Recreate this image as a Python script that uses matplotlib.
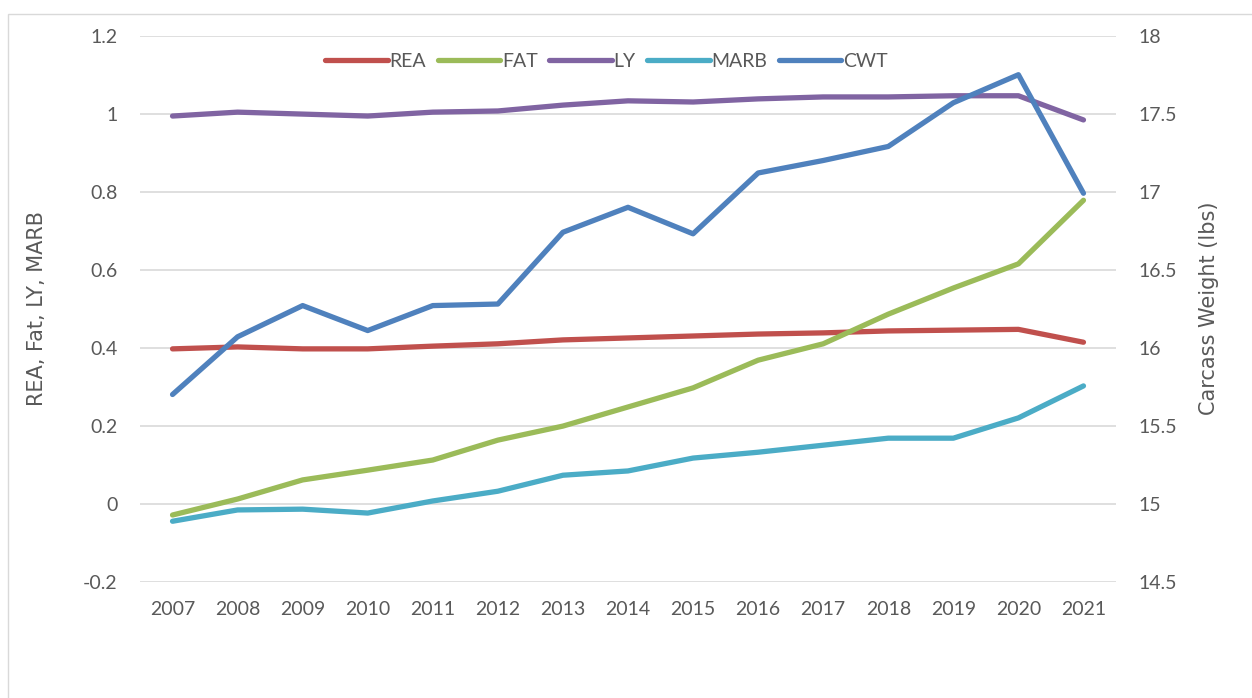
import matplotlib.pyplot as plt
from matplotlib.patches import Rectangle
import numpy as np

years = [str(y) for y in range(2007, 2022)]
rea = [0.397, 0.402, 0.397, 0.397, 0.404, 0.410, 0.420, 0.425, 0.430, 0.435, 0.438, 0.443, 0.445, 0.447, 0.414]
fat = [-0.029, 0.012, 0.061, 0.086, 0.112, 0.163, 0.199, 0.248, 0.297, 0.368, 0.410, 0.486, 0.553, 0.615, 0.778]
ly = [0.994, 1.004, 0.999, 0.994, 1.004, 1.007, 1.022, 1.033, 1.030, 1.038, 1.043, 1.043, 1.046, 1.046, 0.984]
marb = [-0.045, -0.016, -0.014, -0.024, 0.007, 0.032, 0.073, 0.084, 0.117, 0.132, 0.150, 0.168, 0.168, 0.220, 0.302]
cwt = [15.70, 16.07, 16.27, 16.11, 16.27, 16.28, 16.74, 16.90, 16.73, 17.12, 17.20, 17.29, 17.57, 17.75, 16.99]

txt = "#595959"
plt.rcParams["font.family"] = ["Lato", "DejaVu Sans"]

fig = plt.figure(figsize=(12.52, 6.98), dpi=100)
fig.patches.append(Rectangle((8 / 1252, -0.1), 1.2, 1 - 14 / 698 + 0.1,
                             transform=fig.transFigure, fill=False,
                             edgecolor="#D9D9D9", linewidth=1))
ax = fig.add_axes([140 / 1252, 1 - 581.7 / 698, 976 / 1252, 546 / 698])
ax2 = ax.twinx()

x = np.arange(len(years))
lw = 3.8
l1, = ax.plot(x, rea, color="#C0504D", lw=lw, solid_capstyle="round", label="REA")
l2, = ax.plot(x, fat, color="#9BBB59", lw=lw, solid_capstyle="round", label="FAT")
l3, = ax.plot(x, ly, color="#8064A2", lw=lw, solid_capstyle="round", label="LY")
l4, = ax.plot(x, marb, color="#4BACC6", lw=lw, solid_capstyle="round", label="MARB")
l5, = ax2.plot(x, cwt, color="#4F81BD", lw=lw, solid_capstyle="round", label="CWT")

ax.set_xlim(-0.5, len(years) - 0.5)
ax.set_ylim(-0.2, 1.2)
ax.set_yticks(np.arange(-0.2, 1.21, 0.2))
ax.set_yticklabels(["-0.2", "0", "0.2", "0.4", "0.6", "0.8", "1", "1.2"])
ax2.set_ylim(14.5, 18)
ax2.set_yticks(np.arange(14.5, 18.01, 0.5))
ax2.set_yticklabels(["14.5", "15", "15.5", "16", "16.5", "17", "17.5", "18"])
ax.set_xticks(x)
ax.set_xticklabels(years)

ax.grid(axis="y", color="#D9D9D9", linewidth=1.2)
ax.set_axisbelow(True)
for a in (ax, ax2):
    for s in a.spines.values():
        s.set_visible(False)
    a.tick_params(length=0, colors=txt, labelsize=14)
ax.tick_params(axis="y", pad=16)
ax2.tick_params(axis="y", pad=16)
ax.tick_params(axis="x", pad=14)

ax.set_ylabel("REA, Fat, LY, MARB", color=txt, fontsize=15, family="DejaVu Sans", labelpad=26)
ax2.set_ylabel("Carcass Weight (lbs)", color=txt, fontsize=15, family="DejaVu Sans", labelpad=16)

ax2.legend(handles=[l1, l2, l3, l4, l5], loc="upper center", bbox_to_anchor=(0.478, 1.0),
           ncol=5, frameon=False, fontsize=14, labelcolor=txt, handlelength=3.2,
           handletextpad=0.1, columnspacing=0.6)

fig.savefig("out.png", dpi=100)
